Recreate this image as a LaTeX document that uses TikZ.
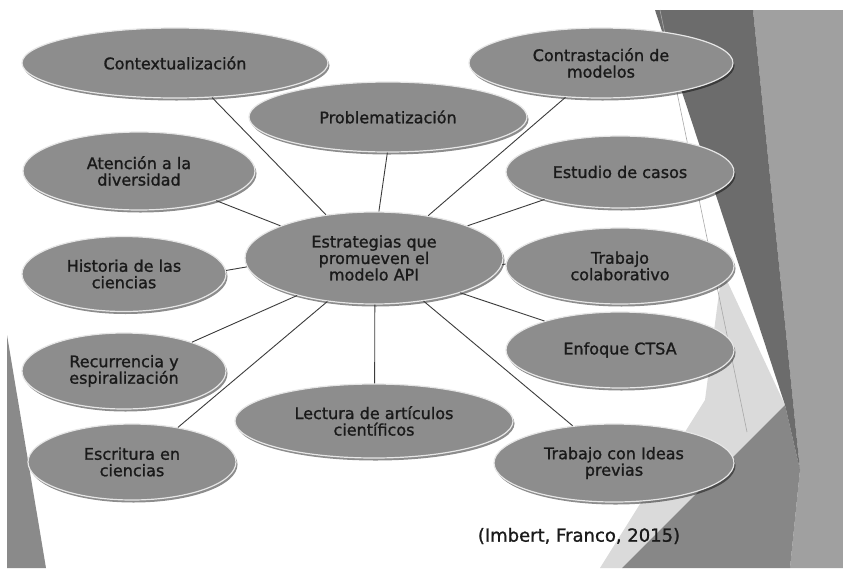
\documentclass[tikz,border=0pt]{standalone}
\usepackage{fontspec}
\setmainfont{DejaVu Sans}
\newfontfamily\nodefont[FakeBold=1.2]{DejaVu Sans}
\usetikzlibrary{shapes.geometric,shadows}
\definecolor{ellfill}{HTML}{8D8D8D}
\definecolor{rimcol}{HTML}{E6E6E6}
\definecolor{txtcol}{HTML}{1A1A1A}
\definecolor{linecol}{HTML}{3C3C3C}
\definecolor{darkband}{HTML}{6C6C6C}
\definecolor{rightgray}{HTML}{A0A0A0}
\definecolor{bottri}{HTML}{878787}
\definecolor{lightwedge}{HTML}{DADADA}
\definecolor{leftstrip}{HTML}{8A8A8A}
\definecolor{thinline}{HTML}{A8A8A8}
\begin{document}
\begin{tikzpicture}[x=1pt,y=-1pt,
  bub/.style={ellipse, fill=ellfill, draw=rimcol, line width=1.2pt, inner sep=0pt,
    align=center, text=txtcol, font=\nodefont\fontsize{16}{16.5}\selectfont,
    drop shadow={shadow xshift=1.5pt, shadow yshift=-2.5pt, fill=black, opacity=0.45}},
  spoke/.style={draw=linecol, line width=0.9pt},
  citestyle/.style={text=txtcol, font=\nodefont\fontsize{18}{20}\selectfont, inner sep=0pt}]
\useasboundingbox (0,0) rectangle (843,568);
\fill[white] (0,0) rectangle (843,568);
% background decoration
\fill[rightgray] (753,10) -- (843,10) -- (843,568) -- (790,568) -- (800,470) -- cycle;
\fill[lightwedge] (722,270) -- (785,405) -- (622,568) -- (600,568) -- (705,400) -- cycle;
\fill[bottri] (622,568) -- (785,405) -- (800,470) -- (790,568) -- cycle;
\fill[darkband] (655,10) -- (753,10) -- (800,470) -- (785,405) -- cycle;
\draw[thinline, line width=0.6pt] (660,10) -- (747,432);
\fill[leftstrip] (7,335) -- (7,568) -- (46,568) -- cycle;
% nodes
\node[bub, minimum width=306pt, minimum height=70pt] (ctx) at (175,63) {Contextualización};
\node[bub, minimum width=264pt, minimum height=70pt] (contr) at (601,63) {Contrastación de\\modelos};
\node[bub, minimum width=278pt, minimum height=70pt] (prob) at (388,117) {Problematización};
\node[bub, minimum width=232pt, minimum height=78pt] (aten) at (139,171) {Atención a la\\diversidad};
\node[bub, minimum width=228pt, minimum height=72pt] (estud) at (620,172) {Estudio de casos};
\node[bub, minimum width=258pt, minimum height=92pt] (cent) at (374,258) {Estrategias que\\promueven el\\modelo API};
\node[bub, minimum width=204pt, minimum height=75pt] (hist) at (124,274) {Historia de las\\ciencias};
\node[bub, minimum width=228pt, minimum height=76pt] (colab) at (620,266) {Trabajo\\colaborativo};
\node[bub, minimum width=228pt, minimum height=76pt] (enfo) at (620,350) {Enfoque CTSA};
\node[bub, minimum width=204pt, minimum height=76pt] (recur) at (124,371) {Recurrencia y\\espiralización};
\node[bub, minimum width=278pt, minimum height=74pt] (lect) at (374,421) {Lectura de artículos\\científicos};
\node[bub, minimum width=208pt, minimum height=76pt] (escr) at (132,462) {Escritura en\\ciencias};
\node[bub, minimum width=240pt, minimum height=78pt] (ideas) at (614,463) {Trabajo con Ideas\\previas};
\node[citestyle] (cite) at (579,536) {(Imbert, Franco, 2015)};
% spokes
\draw[spoke] (cent.138) -- (ctx.-43);
\draw[spoke] (cent.84) -- (prob.-91);
\draw[spoke] (cent.38) -- (contr.-136);
\draw[spoke] (cent.161) -- (aten.-21);
\draw[spoke] (cent.19) -- (estud.-160);
\draw[spoke] (cent.184) -- (hist.2);
\draw[spoke] (cent.-3) -- (colab.179);
\draw[spoke] (cent.-22) -- (enfo.159);
\draw[spoke] (cent.-154) -- (recur.23);
\draw[spoke] (cent.-137) -- (escr.37);
\draw[spoke] (cent.-89) -- (lect.89);
\draw[spoke] (cent.-41) -- (ideas.138);
\end{tikzpicture}
\end{document}
